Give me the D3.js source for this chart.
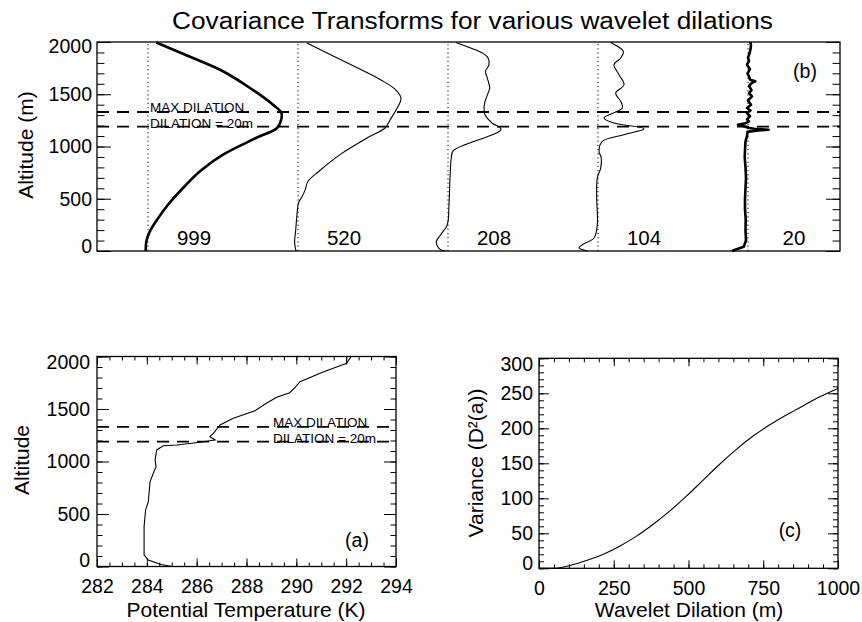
<!DOCTYPE html>
<html>
<head>
<meta charset="utf-8">
<script src="https://cdn.jsdelivr.net/npm/d3@7"></script>
<style>
  body { margin: 0; background: #fff; }
  svg text { font-family: "Liberation Sans", Arial, Helvetica, sans-serif; fill: #000; }
</style>
</head>
<body>
<svg id="chart" width="862" height="622"></svg>
<script>
// ---------- data ----------
// Wavelet dilations (m) shown in panel (b) and the horizontal offset of each profile
const dilations = [999, 520, 208, 104, 20];
const profileOffsets = [0, 150, 300, 450, 600];

// Covariance transform profiles: [altitude (m), covariance (offset units)]
const cov999 = [[0,-2.3],[100,-1.5],[190,2],[285,8],[443,20],[603,35],[763,52],[922,75],[1081,108],[1177,129],[1250,133],[1320,133.4],[1400,125],[1560,102],[1720,75],[1847,45],[1995,8.3]];
const cov520 = [[0,-2],[80,-3.4],[200,-2.3],[350,-1],[460,0.5],[520,4],[580,7],[667,10],[763,21],[922,42],[1081,69],[1177,87],[1254,92],[1349,98],[1460,103],[1540,98],[1636,83],[1796,50],[1900,28],[1990,9]];
const cov208 = [[0,-2.3],[12,-7.3],[45,-10.5],[90,-11.7],[156,-7.3],[252,-0.7],[443,1],[699,2],[890,3.3],[960,5.3],[1163,53],[1225,44],[1304,37],[1368,36],[1429,37],[1509,40],[1560,41.7],[1655,39.3],[1719,37.5],[1783,41],[1850,40],[1891,35],[1943,22.7],[1995,8]];
const cov104 = [[0,-10.7],[29,-19],[60,-15.7],[124,-4],[252,-0.7],[507,-1.3],[699,-0.7],[794,2.7],[890,3.3],[954,1],[1049,4.3],[1113,26],[1170,46],[1225,16],[1273,6],[1368,24.3],[1432,22.7],[1512,17.7],[1591,26],[1687,21],[1783,16],[1847,22.7],[1911,25.3],[1995,12.7]];
const cov20 = [[0,-16],[12,-12.7],[40,-4.3],[100,-2],[200,-2.5],[300,-2.3],[400,-3],[500,-3],[600,-2.5],[700,-2],[800,-2.5],[900,-3.3],[1000,-2.8],[1050,-2.5],[1100,-1],[1140,-0.5],[1152,8],[1161,20.7],[1170,6],[1180,0],[1195,-4],[1209,-10],[1222,-2.7],[1240,1],[1260,-1],[1290,2],[1320,-1],[1345,2.5],[1368,-1],[1400,3],[1440,0],[1480,4],[1510,1],[1540,3.5],[1580,1],[1610,4],[1624,7.3],[1640,2],[1670,1],[1700,-0.5],[1740,2],[1783,-1],[1820,1],[1850,0],[1890,1.5],[1930,2.5],[1970,3],[2000,2.3]];
const profiles = [cov999, cov520, cov208, cov104, cov20];

// Marked levels (m)
const maxDilationAlt = 1330;
const dilation20Alt = 1190;

// Potential temperature profile (panel a)
const thetaAlt = [0,21,62,110,380,538,617,808,888,951,1014,1110,1150,1157,1183,1205,1236,1268,1348,1411,1484,1554,1611,1655,1706,1760,1840,1888,1935,1983,2000];
const theta    = [285.0,284.53,284.06,283.89,283.89,283.95,284.06,284.13,284.26,284.37,284.33,284.4,284.66,285.2,286.13,286.74,286.53,286.67,286.94,287.47,288.34,288.8,289.21,289.74,289.95,290.15,290.95,291.48,292.02,292.15,292.2];

// Variance vs wavelet dilation (panel c)
const dilationM = [0,48,104,159,215,271,326,382,438,493,549,605,660,716,772,827,883,939,1000];
const variance  = [0,0,4,11,20,32,46,63,82,103,126,149,170,189,205,219,232,245,257];

// Tick values
const altMajor = [0, 500, 1000, 1500, 2000];
const altMinor = d3.range(0, 2001, 100);
const thetaMajor = [282, 284, 286, 288, 290, 292, 294];
const thetaMinor = d3.range(282, 294.01, 0.5);
const dilMajor = [0, 250, 500, 750, 1000];
const dilMinor = d3.range(0, 1001, 50);
const varMajor = [0, 50, 100, 150, 200, 250, 300];
const varMinor = d3.range(0, 301, 10);

// ---------- drawing ----------
const svg = d3.select("#chart");
const FONT_TICK = 19.5, FONT_AXIS = 21;

function styleAxis(g) {
  g.select(".domain").remove();
  g.selectAll(".tick line").attr("stroke", "#000").attr("stroke-width", 1);
  g.selectAll(".tick text").attr("font-size", FONT_TICK).attr("fill", "#000");
}
function ticksOnly(g, axisFn, scale, values, len) {
  g.call(axisFn(scale).tickValues(values).tickSize(-len).tickFormat(""));
  styleAxis(g);
}
// pull the end labels of a vertical axis back inside the frame
function nudgeEnds(g, amount) {
  const t = g.selectAll(".tick text").nodes();
  if (!t.length) return;
  d3.select(t[0]).attr("y", -amount);
  d3.select(t[t.length - 1]).attr("y", amount);
}
function frame(x, y) {
  const [x0, x1] = x.range(), [y0, y1] = y.range();
  svg.append("rect")
    .attr("x", x0).attr("y", y1).attr("width", x1 - x0).attr("height", y0 - y1)
    .attr("fill", "none").attr("stroke", "#000").attr("stroke-width", 1.3);
}
function dashedLevel(x, y, alt) {
  svg.append("line")
    .attr("x1", x.range()[0]).attr("x2", x.range()[1])
    .attr("y1", y(alt)).attr("y2", y(alt))
    .attr("stroke", "#000").attr("stroke-width", 1.8).attr("stroke-dasharray", "12,8");
}
function levelNotes(xPos, y) {
  svg.append("text").attr("x", xPos).attr("y", y(maxDilationAlt)).attr("font-size", 13.5).text("MAX DILATION");
  svg.append("text").attr("x", xPos).attr("y", y(dilation20Alt) + 1).attr("font-size", 13.5).text("DILATION = 20m");
}

// Title
svg.append("text")
  .attr("x", 472.5).attr("y", 29).attr("text-anchor", "middle")
  .attr("font-size", 23).attr("textLength", 601).attr("lengthAdjust", "spacingAndGlyphs")
  .text("Covariance Transforms for various wavelet dilations");

// ----- Panel (b): covariance transforms -----
const xB = d3.scaleLinear().domain([-51, 692]).range([97, 840]);
const yB = d3.scaleLinear().domain([0, 2000]).range([251, 42]);

profileOffsets.forEach(off => {
  svg.append("line")
    .attr("x1", xB(off)).attr("x2", xB(off)).attr("y1", yB(0)).attr("y2", yB(2000))
    .attr("stroke", "#000").attr("stroke-width", 1).attr("stroke-dasharray", "1.2,3");
});

dashedLevel(xB, yB, maxDilationAlt);
dashedLevel(xB, yB, dilation20Alt);
levelNotes(xB(0) + 2, yB);

profiles.forEach((p, i) => {
  const off = profileOffsets[i];
  const thick = i === 0 || i === 4;
  const gen = d3.line()
    .x(d => xB(off + d[1])).y(d => yB(d[0]))
    .curve(i === 4 ? d3.curveLinear : d3.curveCatmullRom.alpha(0.5));
  svg.append("path").datum(p).attr("d", gen)
    .attr("fill", "none").attr("stroke", "#000")
    .attr("stroke-width", thick ? 2.6 : 1.1).attr("stroke-linejoin", "round");
  svg.append("text")
    .attr("x", xB(off + 46)).attr("y", 245).attr("text-anchor", "middle")
    .attr("font-size", 20.5).text(dilations[i]);
});

{
  const gl = svg.append("g").attr("transform", `translate(${xB.range()[0]},0)`);
  gl.call(d3.axisLeft(yB).tickValues(altMajor).tickSize(-14).tickPadding(5).tickFormat(d3.format("d")));
  styleAxis(gl); nudgeEnds(gl, 4.7);
  ticksOnly(svg.append("g").attr("transform", `translate(${xB.range()[0]},0)`), d3.axisLeft, yB, altMinor, 7.5);
  ticksOnly(svg.append("g").attr("transform", `translate(${xB.range()[1]},0)`), d3.axisRight, yB, altMajor, 14);
  ticksOnly(svg.append("g").attr("transform", `translate(${xB.range()[1]},0)`), d3.axisRight, yB, altMinor, 7.5);
}
frame(xB, yB);
svg.append("text").attr("x", 805).attr("y", 78).attr("text-anchor", "middle").attr("font-size", FONT_TICK).text("(b)");
svg.append("text").attr("transform", "translate(33,145) rotate(-90)").attr("text-anchor", "middle")
  .attr("font-size", FONT_AXIS).text("Altitude (m)");

// ----- Panel (a): potential temperature -----
const xA = d3.scaleLinear().domain([282, 294]).range([97, 396]);
const yA = d3.scaleLinear().domain([0, 2000]).range([566.5, 356.5]);

dashedLevel(xA, yA, maxDilationAlt);
dashedLevel(xA, yA, dilation20Alt);
levelNotes(273, yA);

svg.append("path").datum(d3.zip(theta, thetaAlt))
  .attr("d", d3.line().x(d => xA(d[0])).y(d => yA(d[1])))
  .attr("fill", "none").attr("stroke", "#000").attr("stroke-width", 1.1);

{
  const gl = svg.append("g").attr("transform", `translate(${xA.range()[0]},0)`);
  gl.call(d3.axisLeft(yA).tickValues(altMajor).tickSize(-12).tickPadding(7).tickFormat(d3.format("d")));
  styleAxis(gl); nudgeEnds(gl, 6);
  ticksOnly(svg.append("g").attr("transform", `translate(${xA.range()[0]},0)`), d3.axisLeft, yA, altMinor, 5.5);
  ticksOnly(svg.append("g").attr("transform", `translate(${xA.range()[1]},0)`), d3.axisRight, yA, altMajor, 12);
  ticksOnly(svg.append("g").attr("transform", `translate(${xA.range()[1]},0)`), d3.axisRight, yA, altMinor, 5.5);
  const gb = svg.append("g").attr("transform", `translate(0,${yA.range()[0]})`);
  gb.call(d3.axisBottom(xA).tickValues(thetaMajor).tickSize(-8).tickPadding(12.7).tickFormat(d3.format("d")));
  styleAxis(gb);
  ticksOnly(svg.append("g").attr("transform", `translate(0,${yA.range()[0]})`), d3.axisBottom, xA, thetaMinor, 4);
  ticksOnly(svg.append("g").attr("transform", `translate(0,${yA.range()[1]})`), d3.axisTop, xA, thetaMajor, 8);
  ticksOnly(svg.append("g").attr("transform", `translate(0,${yA.range()[1]})`), d3.axisTop, xA, thetaMinor, 4);
}
frame(xA, yA);
svg.append("text").attr("x", 357).attr("y", 547).attr("text-anchor", "middle").attr("font-size", FONT_TICK).text("(a)");
svg.append("text").attr("transform", "translate(28.5,460) rotate(-90)").attr("text-anchor", "middle")
  .attr("font-size", FONT_AXIS).text("Altitude");
svg.append("text").attr("x", 246).attr("y", 617).attr("text-anchor", "middle")
  .attr("font-size", FONT_AXIS).text("Potential Temperature (K)");

// ----- Panel (c): variance -----
const xC = d3.scaleLinear().domain([0, 1000]).range([539, 838]);
const yC = d3.scaleLinear().domain([0, 300]).range([568.3, 358.3]);

svg.append("path").datum(d3.zip(dilationM, variance))
  .attr("d", d3.line().x(d => xC(d[0])).y(d => yC(d[1])).curve(d3.curveMonotoneX))
  .attr("fill", "none").attr("stroke", "#000").attr("stroke-width", 1.1);

{
  const gl = svg.append("g").attr("transform", `translate(${xC.range()[0]},0)`);
  gl.call(d3.axisLeft(yC).tickValues(varMajor).tickSize(-10).tickPadding(6).tickFormat(d3.format("d")));
  styleAxis(gl); nudgeEnds(gl, 5.5);
  ticksOnly(svg.append("g").attr("transform", `translate(${xC.range()[0]},0)`), d3.axisLeft, yC, varMinor, 5);
  ticksOnly(svg.append("g").attr("transform", `translate(${xC.range()[1]},0)`), d3.axisRight, yC, varMajor, 10);
  ticksOnly(svg.append("g").attr("transform", `translate(${xC.range()[1]},0)`), d3.axisRight, yC, varMinor, 5);
  const gb = svg.append("g").attr("transform", `translate(0,${yC.range()[0]})`);
  gb.call(d3.axisBottom(xC).tickValues(dilMajor).tickSize(-8).tickPadding(13).tickFormat(d3.format("d")));
  styleAxis(gb);
  ticksOnly(svg.append("g").attr("transform", `translate(0,${yC.range()[0]})`), d3.axisBottom, xC, dilMinor, 4);
  ticksOnly(svg.append("g").attr("transform", `translate(0,${yC.range()[1]})`), d3.axisTop, xC, dilMajor, 8);
  ticksOnly(svg.append("g").attr("transform", `translate(0,${yC.range()[1]})`), d3.axisTop, xC, dilMinor, 4);
}
frame(xC, yC);
svg.append("text").attr("x", 790).attr("y", 537).attr("text-anchor", "middle").attr("font-size", FONT_TICK).text("(c)");
svg.append("text").attr("transform", "translate(483,463) rotate(-90)").attr("text-anchor", "middle")
  .attr("font-size", FONT_AXIS).text("Variance (D²(a))");
svg.append("text").attr("x", 689).attr("y", 617).attr("text-anchor", "middle")
  .attr("font-size", FONT_AXIS).text("Wavelet Dilation (m)");
</script>
</body>
</html>
